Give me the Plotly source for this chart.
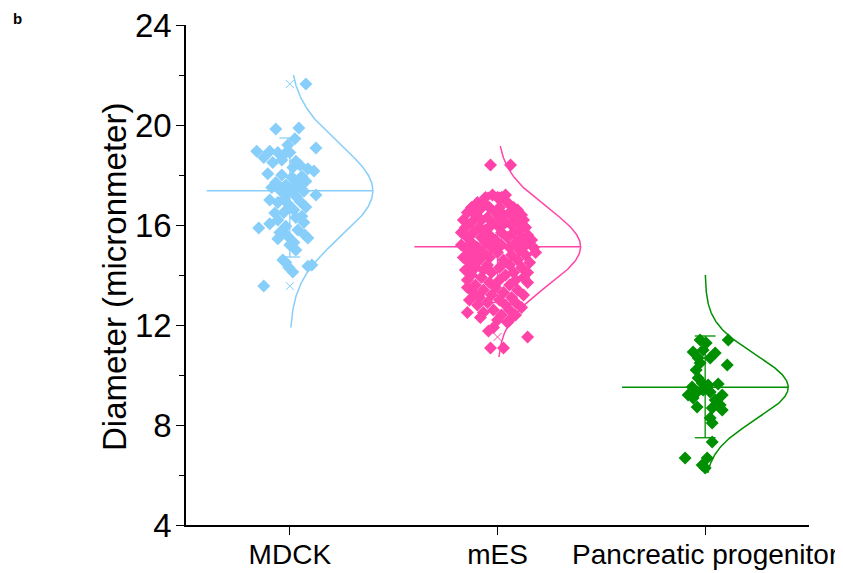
import numpy as np
import plotly.graph_objects as go

# ---------------- data ----------------
categories = ["MDCK", "mES", "Pancreatic progenitor"]

# MDCK diameters (micronmeter) and horizontal jitter (pixels at chart scale)
mdck_values = [21.64, 19.88, 19.84, 19.45, 19.2, 19.08, 18.95, 18.95, 18.9, 18.85,
               18.9, 18.7, 18.6, 18.5, 18.4, 18.3, 18.25, 18.16, 18.0, 17.95,
               17.8, 17.7, 17.6, 17.55, 17.5, 17.45, 17.4, 17.35, 17.3, 17.2,
               17.15, 17.05, 16.95, 16.85, 16.72, 16.6, 16.5, 16.48, 16.3, 16.2,
               16.1, 16.05, 15.95, 15.88, 15.8, 15.7, 15.6, 15.55, 15.45, 15.48,
               15.3, 15.2, 15.0, 14.6, 14.5, 14.4, 14.35, 14.3, 14.12, 13.56,
               18.05, 17.9, 17.75, 16.9, 16.7, 16.35, 17.0, 18.55]
mdck_jitter_px = [16, 9, -14, 5, -2, 26, -33, -20, -12, -5,
                  0, -26, -8, -17, 10, 3, 18, 24, -8, 12,
                  5, -14, -4, 10, -18, 2, -10, 14, -2, 26,
                  6, -6, 10, -2, 16, 4, -6, -15, 6, -12,
                  14, -20, -4, -31, 8, -10, 15, -2, -12, 18,
                  4, 0, 6, -7, -4, 22, 18, -1, 3, -26,
                  -22, 2, 16, -12, 0, 12, -20, 6]

mes_values = [18.4, 18.4, 17.2, 17.2, 17.1, 17.1, 17.1, 16.9, 16.9, 16.9,
              16.7, 16.7, 16.7, 16.7, 16.6, 16.6, 16.5, 16.5, 16.5, 16.4,
              16.4, 16.4, 16.3, 16.3, 16.2, 16.2, 16.2, 16.2, 16.1, 16.1,
              16.1, 16.0, 16.0, 15.9, 15.9, 15.9, 15.9, 15.8, 15.8, 15.7,
              15.7, 15.7, 15.7, 15.6, 15.6, 15.5, 15.5, 15.5, 15.5, 15.4,
              15.4, 15.3, 15.3, 15.3, 15.2, 15.2, 15.2, 15.1, 15.1, 15.1,
              15.1, 15.0, 15.0, 14.9, 14.9, 14.9, 14.8, 14.8, 14.8, 14.7,
              14.7, 14.6, 14.6, 14.6, 14.5, 14.5, 14.4, 14.4, 14.3, 14.3,
              14.3, 14.2, 14.2, 14.1, 14.1, 14.1, 14.0, 14.0, 13.9, 13.9,
              13.8, 13.8, 13.8, 13.7, 13.7, 13.6, 13.6, 13.5, 13.5, 13.4,
              13.4, 13.3, 13.3, 13.2, 13.2, 13.1, 13.1, 13.0, 13.0, 12.9,
              12.9, 12.8, 12.8, 12.7, 12.6, 12.6, 12.5, 12.5, 12.4, 12.4,
              12.3, 12.2, 12.2, 12.1, 11.9, 11.76, 11.52, 11.08, 11.08]
mes_jitter_px = [-7, 13, -5, 8, -12, 0, 4, -20, -14, 10,
                 -26, -8, 2, 16, -18, 20, -30, -2, 12, -22,
                 6, 24, -10, 16, -34, -16, 0, 26, -26, 8,
                 20, -6, 14, -32, -18, 2, 28, -12, 22, -36,
                 -24, 4, 16, -8, 30, -30, -16, 10, 24, -2,
                 34, -26, -12, 18, -36, 4, 28, -20, -6, 12,
                 36, -30, 22, -14, 0, 38, -24, 14, 28, -34,
                 -8, -18, 6, 20, -28, 32, -10, 12, -22, 2,
                 24, -32, -14, -6, 16, 30, -26, 8, -16, 26,
                 -30, 2, 18, -8, 30, -22, 12, -30, -2, -14,
                 20, -24, 6, -6, 26, -18, 14, -28, 2, -10,
                 18, -20, 8, 24, -4, 12, -30, -14, 4, 18,
                 -17, 0, 12, 10, -4, -9, 30, -7, 6]

panc_values = [11.4, 11.4, 11.28, 10.92, 11.0, 10.88, 10.68, 10.68, 10.4, 10.48,
               9.88, 9.68, 9.52, 9.64, 9.2, 9.32, 9.4, 9.32, 9.2, 9.08,
               9.0, 8.72, 8.8, 8.68, 8.6, 8.28, 8.08, 7.32, 6.68, 6.68,
               6.4, 6.28, 10.2, 9.6]
panc_jitter_px = [23, -5, 1, -12, -2, 10, -7, 5, 22, -5,
                  -7, -3, -13, 13, -17, -8, -2, 5, 17, -12,
                  10, -8, 15, 7, 17, 5, 7, 7, -20, 2,
                  -3, 0, -9, 3]

# summary statistics
means = [17.37, 15.13, 9.51]
sds = [1.85, 1.55, 1.3]
whisker_hi = [19.48, 17.3, 11.56]
whisker_lo = [14.72, 12.9, 7.49]
curve_top = [22.0, 19.16, 14.0]
curve_bottom = [11.9, 10.72, 6.08]
pct_marks = [[21.64, 13.56], [11.52], []]

colors = ["#87CEFA", "#FF43A8", "#008F00"]

y_ticks = [4, 8, 12, 16, 20, 24]
y_title = "Diameter (micronmeter)"

# ---------------- figure ----------------
PX_PER_UNIT = 207.0
HALF_WIDTH = 0.4
CAP = 0.05
PAGE_OFFSET = 8  # default body margin of the html page
PLOT_W, PLOT_H = 623, 500

groups = [
    (mdck_values, mdck_jitter_px),
    (mes_values, mes_jitter_px),
    (panc_values, panc_jitter_px),
]

fig = go.Figure()

for i, (vals, jit) in enumerate(groups):
    c = colors[i]
    wx = [i, i, None, i - CAP, i + CAP, None, i - CAP, i + CAP]
    wy = [whisker_lo[i], whisker_hi[i], None, whisker_hi[i], whisker_hi[i], None,
          whisker_lo[i], whisker_lo[i]]
    fig.add_trace(go.Scatter(x=wx, y=wy, mode="lines",
                             line=dict(color=c, width=1.3), hoverinfo="skip"))
    fig.add_trace(go.Scatter(x=[i - HALF_WIDTH, i + HALF_WIDTH], y=[means[i], means[i]],
                             mode="lines", line=dict(color=c, width=1.3), hoverinfo="skip"))
    ys = np.linspace(curve_bottom[i], curve_top[i], 300)
    xs = i + HALF_WIDTH * np.exp(-0.5 * ((ys - means[i]) / sds[i]) ** 2)
    fig.add_trace(go.Scatter(x=xs, y=ys, mode="lines",
                             line=dict(color=c, width=1.5), hoverinfo="skip"))
    if pct_marks[i]:
        fig.add_trace(go.Scatter(x=[i] * len(pct_marks[i]), y=pct_marks[i], mode="markers",
                                 marker=dict(symbol="x-thin", size=8,
                                             line=dict(color=c, width=1)),
                                 hoverinfo="skip"))

for i, (vals, jit) in enumerate(groups):
    c = colors[i]
    xs = [i + j / PX_PER_UNIT for j in jit]
    fig.add_trace(go.Scatter(x=xs, y=vals, mode="markers",
                             marker=dict(symbol="diamond", size=10, color=c,
                                         line=dict(width=0))))

fig.update_layout(
    width=843, height=573,
    margin=dict(l=186 - PAGE_OFFSET, r=34 + PAGE_OFFSET, t=25 - PAGE_OFFSET,
                b=48 + PAGE_OFFSET, autoexpand=False),
    paper_bgcolor="white", plot_bgcolor="white",
    showlegend=False,
    font=dict(family="Liberation Sans, Arial, sans-serif", color="black"),
    annotations=[
        dict(text="<b>b</b>", xref="paper", yref="paper",
             x=(11 - 186) / PLOT_W, y=1 + (25 - 8) / PLOT_H,
             xanchor="left", yanchor="top", showarrow=False,
             font=dict(size=15, color="black")),
        dict(text=y_title, xref="paper", yref="paper", textangle=-90,
             x=(114 - 186) / PLOT_W, y=1 - (277 - 25) / PLOT_H,
             xanchor="center", yanchor="middle", showarrow=False,
             font=dict(size=33, color="black")),
    ],
)

fig.update_xaxes(
    range=[-0.5, 2.5], showgrid=False, zeroline=False, automargin=False,
    tickmode="array", tickvals=[0, 1, 2], ticktext=categories,
    ticks="outside", ticklen=8, tickwidth=1.3, tickcolor="black",
    showline=True, linecolor="black", linewidth=1.5,
    tickfont=dict(size=28), ticklabelstandoff=-4, ticklabeloverflow="allow",
)
fig.update_yaxes(
    range=[4, 24], showgrid=False, zeroline=False, automargin=False,
    tickmode="array", tickvals=y_ticks,
    ticks="outside", ticklen=8, tickwidth=1.3, tickcolor="black",
    minor=dict(tickmode="array", tickvals=[6, 10, 14, 18, 22], ticks="outside",
               ticklen=5, tickwidth=1.3, tickcolor="black"),
    showline=True, linecolor="black", linewidth=1.5,
    tickfont=dict(size=33), ticklabelstandoff=-2, ticklabeloverflow="allow",
)

fig.write_html("out.html")
